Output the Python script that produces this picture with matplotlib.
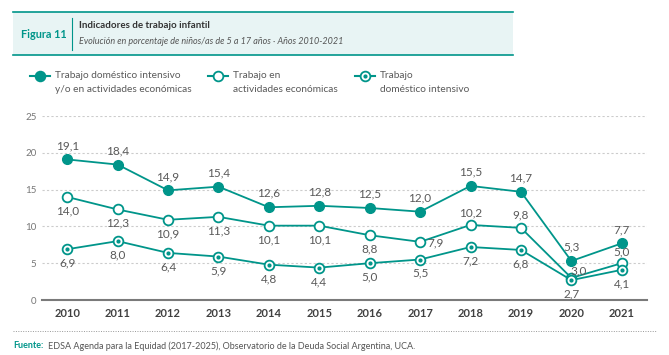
import matplotlib
matplotlib.use('Agg')
import matplotlib.pyplot as plt
from matplotlib.lines import Line2D
from matplotlib.patches import Rectangle

plt.rcParams['font.family'] = ['Lato', 'DejaVu Sans']

years = [2010, 2011, 2012, 2013, 2014, 2015, 2016, 2017, 2018, 2019, 2020, 2021]
ambos = [19.1, 18.4, 14.9, 15.4, 12.6, 12.8, 12.5, 12.0, 15.5, 14.7, 5.3, 7.7]
economico = [14.0, 12.3, 10.9, 11.3, 10.1, 10.1, 8.8, 7.9, 10.2, 9.8, 3.0, 5.0]
domestico = [6.9, 8.0, 6.4, 5.9, 4.8, 4.4, 5.0, 5.5, 7.2, 6.8, 2.7, 4.1]

teal = '#00958a'
gris = '#595959'

# desplazamiento (puntos) de la etiqueta de "en actividades economicas"
desp_economico = [(0, -10)] * 7 + [(11, -1), (0, 9), (0, 9), (5, 5), (0, 8)]

fig = plt.figure(figsize=(6.69, 3.55), dpi=100)

# cabecera
fig.add_artist(Rectangle((13 / 669, 1 - 55 / 355), 500 / 669, 43 / 355,
                         transform=fig.transFigure, facecolor='#e8f4f4', edgecolor='none'))
fig.add_artist(Line2D([13 / 669, 513 / 669], [1 - 12 / 355] * 2, color=teal, lw=1.2))
fig.add_artist(Line2D([13 / 669, 513 / 669], [1 - 55 / 355] * 2, color=teal, lw=1.2))
fig.add_artist(Line2D([72 / 669] * 2, [1 - 18 / 355, 1 - 50 / 355], color=teal, lw=0.8))
fig.text(21 / 669, 1 - 35 / 355, 'Figura 11', color=teal, fontsize=7.8, fontweight='bold', va='center')
fig.text(79 / 669, 1 - 25 / 355, 'Indicadores de trabajo infantil', color='#333333',
         fontsize=7, fontweight='bold', va='center')
fig.text(79 / 669, 1 - 42 / 355, 'Evolución en porcentaje de niños/as de 5 a 17 años · Años 2010-2021',
         color='#555555', fontsize=6.5, style='italic', va='center')

# leyenda
items = [(40, 'Trabajo doméstico intensivo\ny/o en actividades económicas', 'filled'),
         (218, 'Trabajo en\nactividades económicas', 'open'),
         (365, 'Trabajo\ndoméstico intensivo', 'dot')]
for xm, txt, kind in items:
    y = 1 - 76 / 355
    fig.add_artist(Line2D([(xm - 10) / 669, (xm + 10) / 669], [y, y], color=teal, lw=1.5))
    fc = teal if kind == 'filled' else 'white'
    fig.add_artist(Line2D([xm / 669], [y], marker='o', ms=7, mfc=fc, mec=teal, mew=1.3))
    if kind == 'dot':
        fig.add_artist(Line2D([xm / 669], [y], marker='o', ms=2, mfc=teal, mec=teal))
    fig.text((xm + 15) / 669, 1 - 71 / 355, txt, color=gris, fontsize=7.3, va='top', linespacing=1.7)

ax = fig.add_axes([42 / 669, 1 - 300 / 355, 605 / 669, 184 / 355])
x = list(range(len(years)))

ax.plot(x, ambos, color=teal, lw=1.3, marker='o', ms=7, mfc=teal, mec=teal, zorder=3)
ax.plot(x, economico, color=teal, lw=1.3, marker='o', ms=7, mfc='white', mec=teal, mew=1.3, zorder=3)
ax.plot(x, domestico, color=teal, lw=1.3, marker='o', ms=7, mfc='white', mec=teal, mew=1.3, zorder=3)
ax.plot(x, domestico, ls='none', marker='o', ms=2, mfc=teal, mec=teal, zorder=4)

def fmt(v):
    return f'{v:.1f}'.replace('.', ',')

for i in x:
    ax.annotate(fmt(ambos[i]), (i, ambos[i]), xytext=(0, 10), textcoords='offset points',
                ha='center', va='center', color=gris, fontsize=8.5)
    ax.annotate(fmt(economico[i]), (i, economico[i]), xytext=desp_economico[i], textcoords='offset points',
                ha='center', va='center', color=gris, fontsize=8.5)
    ax.annotate(fmt(domestico[i]), (i, domestico[i]), xytext=(0, -10), textcoords='offset points',
                ha='center', va='center', color=gris, fontsize=8.5)

ax.set_xlim(-0.5, 11.5)
ax.set_ylim(0, 25)
ax.set_xticks(x)
ax.set_xticklabels([str(a) for a in years], fontweight='bold', color='#404040', fontsize=8)
ax.set_yticks([0, 5, 10, 15, 20, 25])
ax.set_yticklabels(['0', '5', '10', '15', '20', '25'], color='#777777', fontsize=7)
ax.tick_params(axis='both', length=0)
ax.tick_params(axis='y', pad=4)
ax.tick_params(axis='x', pad=6)
for s in ['top', 'right', 'left']:
    ax.spines[s].set_visible(False)
ax.spines['bottom'].set_color('#7a7a7a')
ax.spines['bottom'].set_linewidth(1.5)
ax.yaxis.grid(True, color='#cccccc', ls=(0, (2, 2)), lw=0.8)
ax.set_axisbelow(True)

# pie
fig.add_artist(Line2D([13 / 669, 657 / 669], [1 - 331 / 355] * 2, color='#999999', lw=0.7, ls=(0, (1, 1.5))))
fuente = fig.text(13 / 669, 1 - 346 / 355, 'Fuente:', color=teal, fontsize=6.5,
                  fontweight='bold', va='center')
fig.add_artist(plt.Annotation(
    'EDSA Agenda para la Equidad (2017-2025), Observatorio de la Deuda Social Argentina, UCA.',
    xy=(1, 0.5), xycoords=fuente, xytext=(3, 0), textcoords='offset points',
    color='#555555', fontsize=6.5, va='center', ha='left'))

fig.savefig('out.png', dpi=100)
